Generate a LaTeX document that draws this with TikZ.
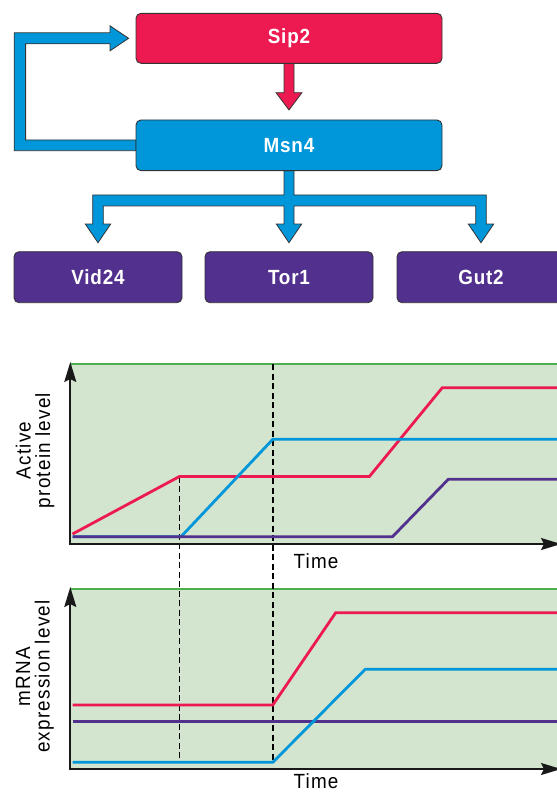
\documentclass[tikz,border=0pt]{standalone}
\usepackage{fontspec}
\setmainfont{Liberation Sans}
\newfontfamily\labfont[LetterSpace=6,FakeStretch=0.92]{Liberation Sans}
\newfontfamily\boxfont[LetterSpace=4,FakeStretch=0.92]{Liberation Sans}
\usetikzlibrary{calc,arrows.meta}
\definecolor{cred}{HTML}{ED1A52}
\definecolor{cblue}{HTML}{0096DA}
\definecolor{cpurple}{HTML}{52308E}
\definecolor{cgreen}{HTML}{D3E5CF}
\definecolor{cgreenline}{HTML}{4CAF50}
\definecolor{cedge}{HTML}{333333}
\pgfdeclarelayer{back}
\pgfsetlayers{back,main}
\begin{document}
\begin{tikzpicture}[x=1pt,y=-1pt,
  box/.style={draw=cedge, line width=0.9pt, rounded corners=5pt, minimum width=306pt,
    minimum height=50pt, inner sep=0pt, outer sep=0pt, text=white,
    font=\boxfont\fontsize{20.5}{24}\selectfont\bfseries},
  gbox/.style={box, minimum width=168pt, minimum height=51pt, fill=cpurple},
  blockarrow/.style={draw=cedge, line width=0.8pt, line join=miter},
  axisline/.style={line width=1.8pt, draw=black!90, -{Stealth[length=20pt,width=12pt,inset=3pt]}},
  pline/.style={line width=2.8pt, line join=miter},
  dashline/.style={line width=1.5pt, black, dash pattern=on 6pt off 3.5pt},
  lab/.style={font=\labfont\fontsize{20.5}{19.5}\selectfont, align=center, inner sep=0pt, text=black}
]
\useasboundingbox (0,0) rectangle (557,793);
\clip (0,0) rectangle (557,793);

% ---- boxes ----
\node[box, fill=cred] (sip) at (289,38.3) {Sip2};
\node[box, fill=cblue, minimum height=50.7pt] (msn) at (289,145.3) {Msn4};
\node[gbox] (vid) at (98,277.2) {Vid24};
\node[gbox] (tor) at (289,277.2) {Tor1};
\node[gbox] (gut) at (481,277.2) {Gut2};

\begin{pgfonlayer}{back}
% red arrow Sip2 -> Msn4
\coordinate (rt) at ($(msn.north)+(0,-10)$);
\path[blockarrow, fill=cred] ($(sip.south)+(-5,0)$) -- ($(rt)+(-5,-17.3)$) -- ($(rt)+(-13,-17.3)$)
  -- (rt) -- ($(rt)+(13,-17.3)$) -- ($(rt)+(5,-17.3)$) -- ($(sip.south)+(5,0)$) -- cycle;

% feedback arrow Msn4 -> Sip2
\coordinate (ft) at ($(sip.west)+(-7.4,0)$);
\path[blockarrow, fill=cblue] ($(msn.west)+(0,-5.35)$) -- ($(msn.west)+(-110.4,-5.35)$)
  -- ($(sip.west)+(-110.4,5.5)$) -- ($(ft)+(-18.6,5.5)$) -- ($(ft)+(-18.6,12.5)$)
  -- (ft) -- ($(ft)+(-18.6,-12.5)$) -- ($(ft)+(-18.6,-5.5)$)
  -- ($(sip.west)+(-121.8,-5.5)$) -- ($(msn.west)+(-121.8,5.35)$)
  -- ($(msn.west)+(0,5.35)$) -- cycle;

% branch arrows Msn4 -> Vid24, Tor1, Gut2
\coordinate (bv) at (vid.north |- msn.south);
\coordinate (bg) at (gut.north |- msn.south);
\path[blockarrow, fill=cblue] ($(msn.south)+(-5,0)$) -- ($(msn.south)+(-5,24.3)$)
  -- ($(bv)+(-5.3,24.3)$) -- ($(vid.north)+(-5.3,-27.7)$) -- ($(vid.north)+(-12.7,-27.7)$)
  -- ($(vid.north)+(0,-9)$) -- ($(vid.north)+(12.7,-27.7)$) -- ($(vid.north)+(5.3,-27.7)$)
  -- ($(bv)+(5.3,35.3)$) -- ($(msn.south)+(-5,35.3)$)
  -- ($(tor.north)+(-5,-27.7)$) -- ($(tor.north)+(-12.7,-27.7)$) -- ($(tor.north)+(0,-9)$)
  -- ($(tor.north)+(12.7,-27.7)$) -- ($(tor.north)+(5,-27.7)$) -- ($(msn.south)+(5,35.3)$)
  -- ($(bg)+(-5.3,35.3)$) -- ($(gut.north)+(-5.3,-27.7)$) -- ($(gut.north)+(-12.7,-27.7)$)
  -- ($(gut.north)+(0,-9)$) -- ($(gut.north)+(12.7,-27.7)$) -- ($(gut.north)+(5.3,-27.7)$)
  -- ($(bg)+(5.3,24.3)$) -- ($(msn.south)+(5,24.3)$) -- ($(msn.south)+(5,0)$) -- cycle;
\end{pgfonlayer}

% ---- plot 1 ----
\fill[cgreen] (70.3,364) rectangle (562,544);
\draw[cgreenline, line width=1.2pt] (70.3,364) -- (562,364);
% ---- plot 2 ----
\fill[cgreen] (70.3,589) rectangle (562,769);
\draw[cgreenline, line width=1.2pt] (70.3,589) -- (562,589);

% dashed guides
\draw[dashline] (179.4,476.5) -- (179.4,760);
\draw[dashline] (272.8,364) -- (272.8,762);

% plot 1 curves
\draw[pline, cred] (72.5,534) -- (179.4,476.5) -- (369.4,476.5) -- (442.3,387.7) -- (562,387.7);
\draw[pline, cblue] (72.5,536.7) -- (181,536.7) -- (272.8,439.3) -- (562,439.3);
\draw[pline, cpurple] (72.5,536.7) -- (392.5,536.7) -- (448.3,479.3) -- (562,479.3);

% plot 2 curves
\draw[pline, cred] (72.5,705) -- (272.8,705) -- (335.7,612.7) -- (562,612.7);
\draw[pline, cpurple] (72.5,721.7) -- (562,721.7);
\draw[pline, cblue] (72.5,762.3) -- (272.8,762.3) -- (365.2,669.3) -- (562,669.3);

% axes
\draw[axisline] (70.3,545) -- (70.3,362);
\draw[axisline] (69.4,544) -- (561,544);
\draw[axisline] (70.3,770) -- (70.3,587);
\draw[axisline] (69.4,769) -- (561,769);

% labels
\node[lab, rotate=90] (lab1) at (35,450.5) {Active\\protein level};
\node[lab, rotate=90] (lab2) at (35,676.5) {mRNA\\expression level};
\node[lab] (t1) at (316,561) {Time};
\node[lab] (t2) at (316,781.5) {Time};
\end{tikzpicture}
\end{document}
